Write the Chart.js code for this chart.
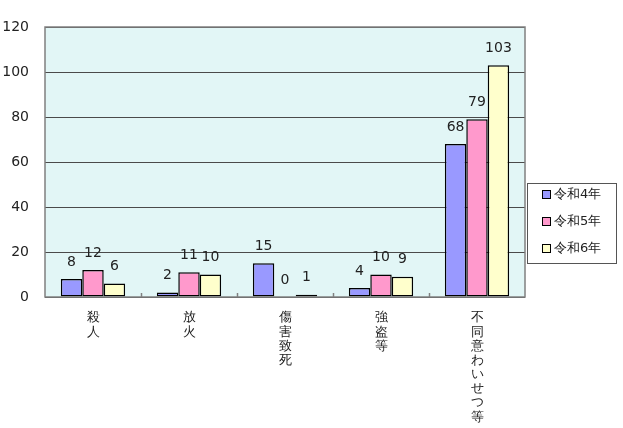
<!DOCTYPE html>
<html>
<head>
<meta charset="utf-8">
<script src="https://cdn.jsdelivr.net/npm/chart.js@4/dist/chart.umd.min.js"></script>
<style>
  html, body { margin: 0; padding: 0; background: #fff; }
  #wrap { width: 623px; height: 428px; }
</style>
</head>
<body>
<div id="wrap"><canvas id="chart" width="623" height="428"></canvas></div>
<script>
const categories = ['殺人', '放火', '傷害致死', '強盗等', '不同意わいせつ等'];
const seriesNames = ['令和4年', '令和5年', '令和6年'];
const r4 = [8, 2, 15, 4, 68];
const r5 = [12, 11, 0, 10, 79];
const r6 = [6, 10, 1, 9, 103];
const yTicks = [0, 20, 40, 60, 80, 100, 120];

const colors = ['#9999ff', '#ff99cc', '#ffffcc'];
const font = '"DejaVu Sans", Verdana, sans-serif';

// plot area fill + ticks between categories
const plotBg = {
    id: 'plotBg',
    beforeDraw(chart) {
        const { ctx, chartArea: a } = chart;
        ctx.save();
        ctx.fillStyle = '#e2f6f6';
        ctx.fillRect(a.left, a.top, a.width, a.height);
        ctx.restore();
    },
    afterDatasetsDraw(chart) {
        const { ctx, chartArea: a } = chart;
        const x = chart.scales.x;
        ctx.save();
        ctx.strokeStyle = '#808080';
        ctx.lineWidth = 1.5;
        ctx.strokeRect(a.left, a.top, a.width, a.height);
        for (let i = 1; i < categories.length; i++) {
            const px = Math.round((x.getPixelForValue(i - 1) + x.getPixelForValue(i)) / 2) + 0.5;
            ctx.beginPath();
            ctx.moveTo(px, a.bottom);
            ctx.lineTo(px, a.bottom - 4);
            ctx.stroke();
        }
        ctx.restore();
    }
};

// value labels above each bar
const valueLabels = {
    id: 'valueLabels',
    afterDatasetsDraw(chart) {
        const ctx = chart.ctx;
        ctx.save();
        ctx.font = '14px ' + font;
        ctx.fillStyle = '#222';
        ctx.textAlign = 'center';
        ctx.textBaseline = 'bottom';
        chart.data.datasets.forEach((ds, di) => {
            chart.getDatasetMeta(di).data.forEach((bar, i) => {
                ctx.fillText(String(ds.data[i]), bar.x, bar.y - 10);
            });
        });
        ctx.restore();
    }
};

// boxed legend on the right
const boxLegend = {
    id: 'boxLegend',
    afterDraw(chart) {
        const ctx = chart.ctx;
        const bx = 527, by = 183, bw = 89, bh = 80;
        ctx.save();
        ctx.fillStyle = '#fff';
        ctx.fillRect(bx, by, bw, bh);
        ctx.strokeStyle = '#555';
        ctx.lineWidth = 1;
        ctx.strokeRect(bx + 0.5, by + 0.5, bw, bh);
        ctx.font = '13px ' + font;
        ctx.textBaseline = 'middle';
        chart.data.datasets.forEach((ds, i) => {
            const cy = by + 12 + i * 27;
            ctx.fillStyle = ds.backgroundColor;
            ctx.fillRect(bx + 15.5, cy - 4.5, 8, 8);
            ctx.strokeStyle = '#000';
            ctx.strokeRect(bx + 15.5, cy - 4.5, 8, 8);
            ctx.fillStyle = '#222';
            ctx.fillText(ds.label, bx + 27, cy);
        });
        ctx.restore();
    }
};

const seriesData = [r4, r5, r6];

new Chart(document.getElementById('chart'), {
    type: 'bar',
    data: {
        labels: categories.map(c => c.split('')),
        datasets: seriesNames.map((name, i) => ({
            label: name,
            data: seriesData[i],
            backgroundColor: colors[i],
            borderColor: '#000',
            borderWidth: 1.5,
            borderSkipped: false,
            barPercentage: 1,
            categoryPercentage: 0.67
        }))
    },
    options: {
        responsive: false,
        animation: false,
        devicePixelRatio: 1,
        layout: { padding: { top: 27, right: 98, left: 0, bottom: 0 } },
        plugins: { legend: { display: false }, tooltip: { enabled: false } },
        scales: {
            x: {
                afterFit(s) { s.height = 131; },
                grid: { display: false },
                border: { display: false },
                ticks: {
                    maxRotation: 0,
                    minRotation: 0,
                    padding: 6,
                    color: '#222',
                    font: { family: font, size: 13, lineHeight: 1.09 }
                }
            },
            y: {
                min: 0,
                max: 120,
                afterFit(s) { s.width = 45; },
                afterBuildTicks(s) { s.ticks = yTicks.map(v => ({ value: v })); },
                grid: { color: '#4a4a4a', lineWidth: 1, drawTicks: false },
                border: { display: false },
                ticks: {
                    padding: 16,
                    color: '#222',
                    font: { family: font, size: 14 }
                }
            }
        }
    },
    plugins: [plotBg, valueLabels, boxLegend]
});
</script>
</body>
</html>
